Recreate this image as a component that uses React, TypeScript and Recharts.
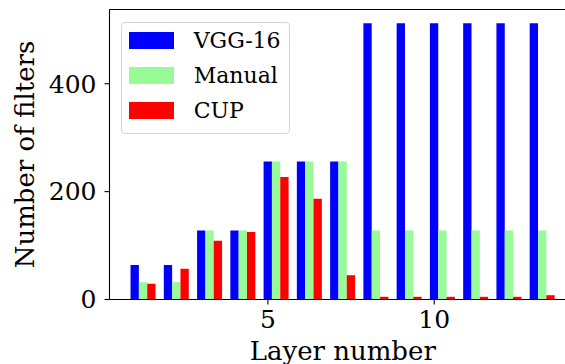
import React from 'react';
import { BarChart, Bar, XAxis, YAxis, Legend, ReferenceLine } from 'recharts';

const layers = [1, 2, 3, 4, 5, 6, 7, 8, 9, 10, 11, 12, 13];
const vgg16 = [64, 64, 128, 128, 256, 256, 256, 512, 512, 512, 512, 512, 512];
const manual = [32, 32, 128, 128, 256, 256, 256, 128, 128, 128, 128, 128, 128];
const cup = [29, 57, 109, 125, 227, 187, 45, 5, 5, 5, 5, 5, 8];
const xTicks = [5, 10];
const yTicks = [0, 200, 400];
const seriesKeys = ['vgg', 'manual', 'cup'];
const seriesNames = ['VGG-16', 'Manual', 'CUP'];
const seriesColors = ['#0000ff', '#98fb98', '#ff0000'];
const xLabel = 'Layer number';
const yLabel = 'Number of filters';

const data = layers.map((layer, i) => ({
  layer,
  vgg: vgg16[i],
  manual: manual[i],
  cup: cup[i],
}));

const FONT = '"DejaVu Serif", serif';
const W = 600;
const H = 364;
const PLOT_LEFT = 109.5;
const PLOT_TOP = 9.5;
const PLOT_RIGHT = 576;
const PLOT_BOTTOM = 299.5;
const X_MIN = 0.2375;
const X_MAX = 14.2625;
const BAR_SHIFT = 0.25;
const Y_MAX = 537.6;

const LegendBox = () => (
  <div
    style={{
      width: 169,
      height: 112,
      boxSizing: 'border-box',
      border: '1px solid #d4d4d4',
      borderRadius: 4,
      background: 'rgba(255,255,255,0.8)',
      position: 'relative',
      fontFamily: FONT,
      fontSize: 22,
      color: '#000',
    }}
  >
    {seriesNames.map((n, i) => (
      <div
        key={n}
        style={{
          position: 'absolute',
          left: 7,
          top: 9.6 + i * 35,
          height: 17,
          display: 'flex',
          alignItems: 'center',
          whiteSpace: 'nowrap',
        }}
      >
        <div style={{ width: 45, height: 17, background: seriesColors[i] }} />
        <span style={{ marginLeft: 20, lineHeight: '17px' }}>{n}</span>
      </div>
    ))}
  </div>
);

export default function App() {
  return (
    <div
      style={{
        position: 'absolute',
        left: 0,
        top: 0,
        width: 565,
        height: 364,
        overflow: 'hidden',
        background: '#fff',
      }}
    >
      <BarChart
        width={W}
        height={H}
        data={data}
        margin={{ top: PLOT_TOP, right: W - PLOT_RIGHT, bottom: 0, left: 0 }}
        barGap={0}
        barSize={8.33}
      >
        <XAxis
          xAxisId="bars"
          dataKey="layer"
          type="number"
          domain={[X_MIN - BAR_SHIFT, X_MAX - BAR_SHIFT]}
          allowDataOverflow
          ticks={layers}
          height={0}
          hide
        />
        <XAxis
          xAxisId="ticks"
          dataKey="layer"
          type="number"
          domain={[X_MIN, X_MAX]}
          allowDataOverflow
          ticks={xTicks}
          height={H - PLOT_BOTTOM}
          axisLine={{ stroke: '#000', strokeWidth: 1.1 }}
          tickLine={{ stroke: '#000', strokeWidth: 1.1 }}
          tickSize={5}
          tickMargin={5.5}
          tick={{ fill: '#000', fontSize: 25, fontFamily: FONT }}
          label={{
            value: xLabel,
            position: 'insideBottom',
            offset: 4,
            fill: '#000',
            fontSize: 26,
            fontFamily: FONT,
          }}
        />
        <YAxis
          type="number"
          domain={[0, Y_MAX]}
          ticks={yTicks}
          width={PLOT_LEFT}
          axisLine={{ stroke: '#000', strokeWidth: 1.1 }}
          tickLine={{ stroke: '#000', strokeWidth: 1.1 }}
          tickSize={5}
          tickMargin={8}
          tick={{ fill: '#000', fontSize: 25, fontFamily: FONT }}
          label={{
            value: yLabel,
            angle: -90,
            position: 'center',
            dx: -30,
            fill: '#000',
            fontSize: 26,
            fontFamily: FONT,
          }}
        />
        <ReferenceLine
          xAxisId="ticks"
          y={Y_MAX}
          stroke="#000"
          strokeWidth={1.1}
          ifOverflow="visible"
        />
        <Legend
          verticalAlign="middle"
          align="center"
          layout="horizontal"
          wrapperStyle={{ position: 'absolute', left: 120.7, top: 21.7, width: 169, height: 112 }}
          content={() => <LegendBox />}
        />
        {seriesKeys.map((k, i) => (
          <Bar
            key={k}
            xAxisId="bars"
            dataKey={k}
            name={seriesNames[i]}
            fill={seriesColors[i]}
            isAnimationActive={false}
          />
        ))}
      </BarChart>
    </div>
  );
}
